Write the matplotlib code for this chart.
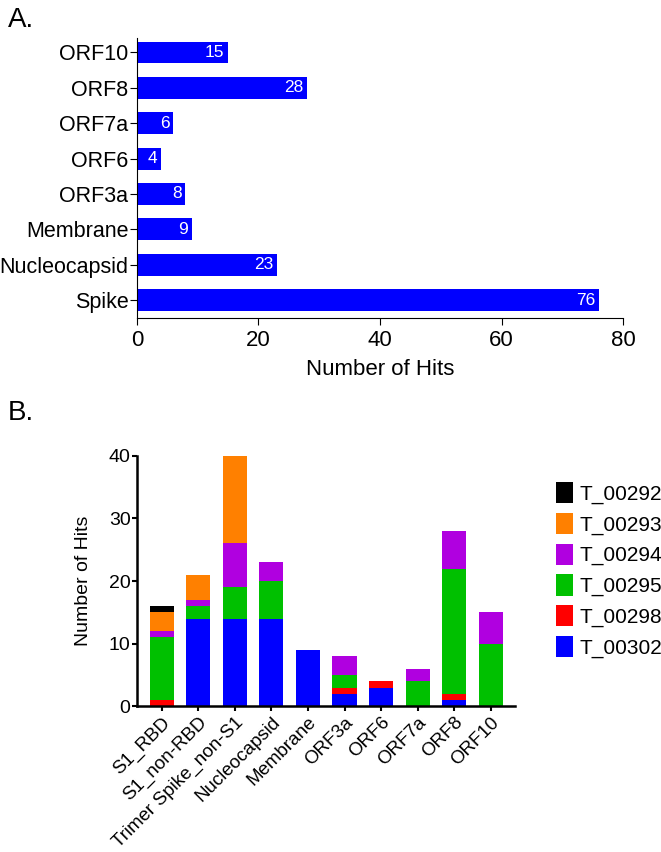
import numpy as np
import matplotlib.pyplot as plt

plt.rcParams['font.family'] = ['Liberation Sans', 'DejaVu Sans']

# Panel A data
proteins = ["Spike", "Nucleocapsid", "Membrane", "ORF3a", "ORF6", "ORF7a", "ORF8", "ORF10"]
hits = [76, 23, 9, 8, 4, 6, 28, 15]

# Panel B data
categories = ["S1_RBD", "S1_non-RBD", "Trimer Spike_non-S1", "Nucleocapsid", "Membrane",
              "ORF3a", "ORF6", "ORF7a", "ORF8", "ORF10"]
t_00302 = [0, 14, 14, 14, 9, 2, 3, 0, 1, 0]
t_00298 = [1, 0, 0, 0, 0, 1, 1, 0, 1, 0]
t_00295 = [10, 2, 5, 6, 0, 2, 0, 4, 20, 10]
t_00294 = [1, 1, 7, 3, 0, 3, 0, 2, 6, 5]
t_00293 = [3, 4, 14, 0, 0, 0, 0, 0, 0, 0]
t_00292 = [1, 0, 0, 0, 0, 0, 0, 0, 0, 0]

series = [("T_00302", t_00302, "#0000ff"),
          ("T_00298", t_00298, "#ff0000"),
          ("T_00295", t_00295, "#00c000"),
          ("T_00294", t_00294, "#b000e0"),
          ("T_00293", t_00293, "#ff8000"),
          ("T_00292", t_00292, "#000000")]

fig = plt.figure(figsize=(6.61, 8.52), dpi=100)

# ---- Panel A ----
ax1 = fig.add_axes([0.207, 0.627, 0.736, 0.328])
y = np.arange(len(proteins))
ax1.barh(y, hits, height=0.62, color="#0000ff")
for yi, v in zip(y, hits):
    ax1.text(v - 0.6, yi, str(v), color="white", ha="right", va="center", fontsize=12.5)
ax1.set_yticks(y)
ax1.set_yticklabels(proteins, fontsize=15.5)
ax1.set_ylim(-0.5, 7.4)
ax1.set_xlim(0, 80)
ax1.set_xticks([0, 20, 40, 60, 80])
ax1.tick_params(axis="x", labelsize=16, length=5)
ax1.tick_params(axis="y", pad=1, length=5)
ax1.set_xlabel("Number of Hits", fontsize=16, labelpad=6)
for s in ["top", "right"]:
    ax1.spines[s].set_visible(False)
fig.text(0.012, 0.977, "A.", fontsize=20, va="center")

# ---- Panel B ----
ax2 = fig.add_axes([0.207, 0.171, 0.572, 0.294])
x = np.arange(len(categories))
bottom = np.zeros(len(categories))
for name, vals, col in series:
    ax2.bar(x, vals, bottom=bottom, width=0.66, color=col, label=name)
    bottom += np.array(vals)
ax2.set_ylim(0, 40)
ax2.set_xlim(-0.68, 9.66)
ax2.set_yticks([0, 10, 20, 30, 40])
ax2.set_xticks(x)
ax2.set_xticklabels(categories, rotation=45, ha="right", rotation_mode="anchor", fontsize=13.5)
ax2.tick_params(axis="y", labelsize=14, width=1.5, pad=1)
ax2.tick_params(axis="x", width=1.5, pad=2)
ax2.set_ylabel("Number of Hits", fontsize=14, labelpad=12)
for s in ["top", "right"]:
    ax2.spines[s].set_visible(False)
for s in ["left", "bottom"]:
    ax2.spines[s].set_linewidth(1.8)
h, l = ax2.get_legend_handles_labels()
ax2.legend(h[::-1], l[::-1], loc="upper left", bbox_to_anchor=(1.06, 0.97), frameon=False,
           fontsize=15, handlelength=0.8, handleheight=1.2, labelspacing=0.42, handletextpad=0.3)
fig.text(0.012, 0.515, "B.", fontsize=20, va="center")

fig.savefig("out.png", dpi=100)
